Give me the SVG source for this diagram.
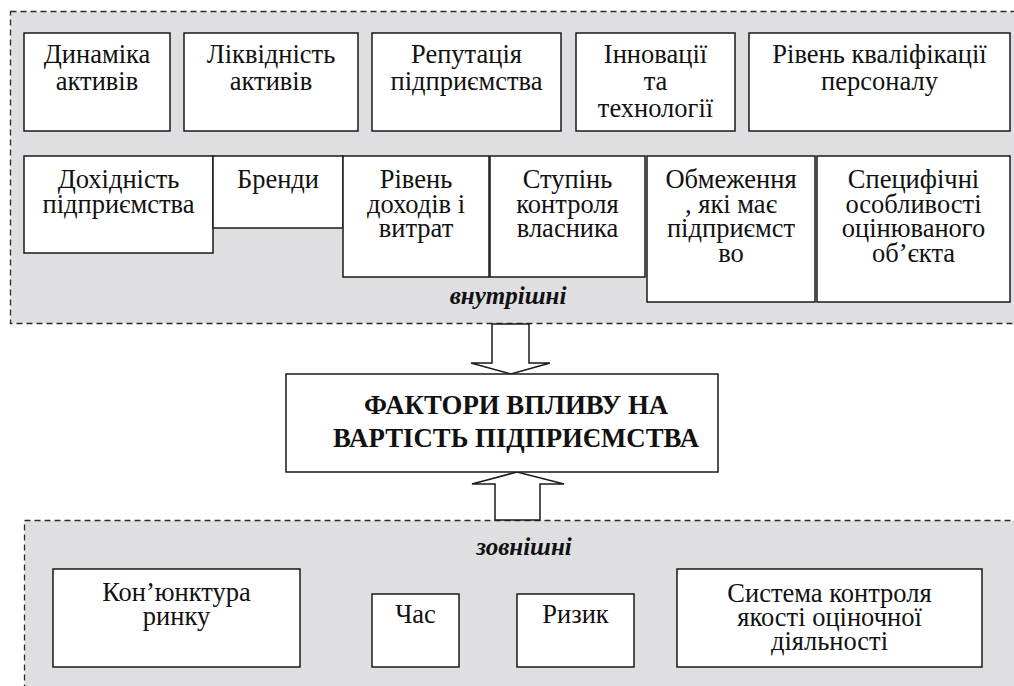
<svg xmlns="http://www.w3.org/2000/svg" width="1014" height="686" viewBox="0 0 1014 686">
<style>
text{font-family:'Liberation Serif','Times New Roman',Times,serif}
.zone{fill:#dfdfe1;stroke:#2a2a2a;stroke-width:1.3;stroke-dasharray:6 4}
.box{fill:#ffffff;stroke:#1a1a1a;stroke-width:1.5}
.t{font-size:26.5px;fill:#111;text-anchor:middle}
.tb{font-size:26.8px;font-weight:bold;fill:#111;text-anchor:middle}
.ti{font-size:25px;font-weight:bold;font-style:italic;fill:#111;text-anchor:middle}
.arr{fill:#ffffff;stroke:#1a1a1a;stroke-width:1.5;stroke-linejoin:miter}
</style>
<rect x="0" y="0" width="1014" height="686" fill="#ffffff"/>
<g id="zone-internal">
<rect class="zone" x="10.5" y="11.5" width="1020" height="312"/>
<text class="ti" x="508" y="304">внутрішні</text>
</g>
<g id="zone-external">
<rect class="zone" x="24.5" y="520.5" width="1000" height="200"/>
<text class="ti" x="524" y="555">зовнішні</text>
</g>
<g id="connectors">
<polygon class="arr" points="492,324 492,363 471,363 511,374 550,363 529,363 529,324"/>
<polygon class="arr" points="495,520 495,484 472,484 517,472 564,484 540,484 540,520"/>
</g>
<g id="n1"><rect class="box" x="24" y="33" width="146" height="98"/><text class="t" x="97" y="63">Динаміка</text><text class="t" x="97" y="90">активів</text></g>
<g id="n2"><rect class="box" x="184" y="33" width="174" height="98"/><text class="t" x="271" y="63">Ліквідність</text><text class="t" x="271" y="90">активів</text></g>
<g id="n3"><rect class="box" x="372" y="33" width="189" height="98"/><text class="t" x="466.5" y="63">Репутація</text><text class="t" x="466.5" y="90">підприємства</text></g>
<g id="n4"><rect class="box" x="576" y="33" width="159" height="98"/><text class="t" x="655.5" y="63">Інновації</text><text class="t" x="655.5" y="90">та</text><text class="t" x="655.5" y="117">технології</text></g>
<g id="n5"><rect class="box" x="749" y="33" width="261" height="98"/><text class="t" x="879.5" y="63">Рівень кваліфікації</text><text class="t" x="879.5" y="90">персоналу</text></g>
<g id="n6"><rect class="box" x="24" y="156" width="189" height="97"/><text class="t" x="118.5" y="188">Дохідність</text><text class="t" x="118.5" y="213">підприємства</text></g>
<g id="n7"><rect class="box" x="213" y="156" width="130" height="72"/><text class="t" x="278" y="188">Бренди</text></g>
<g id="n8"><rect class="box" x="343" y="156" width="146" height="121"/><text class="t" x="416" y="188">Рівень</text><text class="t" x="416" y="213">доходів і</text><text class="t" x="416" y="237">витрат</text></g>
<g id="n9"><rect class="box" x="490" y="156" width="155" height="121"/><text class="t" x="567.5" y="188">Ступінь</text><text class="t" x="567.5" y="213">контроля</text><text class="t" x="567.5" y="237">власника</text></g>
<g id="n10"><rect class="box" x="647" y="156" width="168" height="146"/><text class="t" x="731" y="188">Обмеження</text><text class="t" x="731" y="213">, які має</text><text class="t" x="731" y="237">підприємст</text><text class="t" x="731" y="262">во</text></g>
<g id="n11"><rect class="box" x="817" y="156" width="193" height="146"/><text class="t" x="913.5" y="188">Специфічні</text><text class="t" x="913.5" y="213">особливості</text><text class="t" x="913.5" y="237">оцінюваного</text><text class="t" x="913.5" y="262">об’єкта</text></g>
<g id="center"><rect class="box" x="286" y="374" width="432" height="98"/><text class="tb" x="516" y="414">ФАКТОРИ ВПЛИВУ НА</text><text class="tb" x="516" y="447">ВАРТІСТЬ ПІДПРИЄМСТВА</text></g>
<g id="e1"><rect class="box" x="53" y="569" width="247" height="98"/><text class="t" x="176.5" y="601">Кон’юнктура</text><text class="t" x="176.5" y="625">ринку</text></g>
<g id="e2"><rect class="box" x="372" y="594" width="87" height="73"/><text class="t" x="415.5" y="623">Час</text></g>
<g id="e3"><rect class="box" x="517" y="594" width="117" height="73"/><text class="t" x="575.5" y="623">Ризик</text></g>
<g id="e4"><rect class="box" x="677" y="569" width="305" height="98"/><text class="t" x="829.5" y="602">Система контроля</text><text class="t" x="829.5" y="626">якості оціночної</text><text class="t" x="829.5" y="650">діяльності</text></g>
</svg>
